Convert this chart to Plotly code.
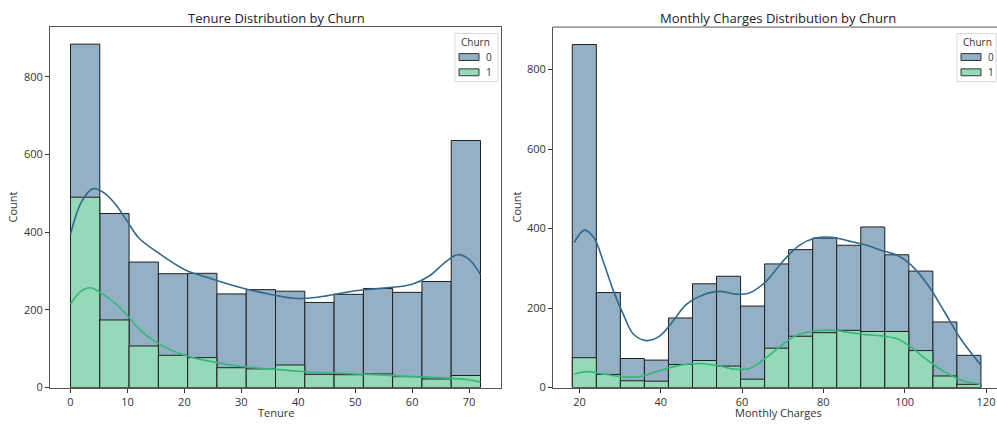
import numpy as np
import plotly.graph_objects as go

# ---------------- data ----------------
tenure_min, tenure_max, tenure_bins = 0, 72, 14
tenure_counts_0 = [884, 448, 323, 293, 294, 241, 252, 248, 219, 240, 255, 245, 273, 636]
tenure_counts_1 = [490, 174, 107, 83, 77, 51, 48, 58, 34, 33, 35, 28, 22, 31]

tenure_kde_x = [0, 2, 4, 6, 8, 10, 12, 15, 20, 25, 30, 35, 40, 45, 50, 55, 60, 63, 66, 68, 70, 72]
tenure_kde_0 = [395, 480, 512, 500, 470, 427, 385, 351, 304, 279, 257, 240, 229, 236, 249, 256, 266, 287, 325, 342, 330, 291]
tenure_kde1_x = [0, 2, 3.5, 5, 8, 10, 12, 15, 20, 25, 30, 35, 40, 45, 50, 55, 60, 65, 70, 72]
tenure_kde_1 = [215, 250, 257, 247, 215, 185, 151, 117, 83, 66, 54, 48, 42, 38, 35, 32, 28, 25, 20, 14]

mc_min, mc_max, mc_bins = 18.25, 118.75, 17
mc_counts_0 = [863, 239, 73, 69, 175, 261, 280, 205, 311, 347, 376, 358, 404, 334, 293, 165, 81]
mc_counts_1 = [75, 33, 17, 16, 58, 68, 54, 21, 99, 129, 138, 144, 141, 141, 93, 29, 8]

mc_kde0_x = [18.75, 21.2, 23.5, 25.9, 28.4, 30.8, 33.3, 36.5, 39.8, 43.0, 46.3, 50.4, 54.4, 58.5, 61.8,
             65.8, 69.9, 74.0, 78.0, 82.1, 86.1, 90.2, 94.3, 98.3, 101.6, 105.7, 109.7, 113.8, 118.75]
mc_kde_0 = [365, 396, 378, 316, 242, 184, 134, 118, 130, 167, 209, 233, 242, 235, 238,
            266, 316, 357, 376, 378, 369, 359, 345, 332, 308, 258, 192, 122, 56]
mc_kde1_x = [18.75, 21.8, 25.9, 30.8, 34.9, 39.0, 43.0, 47.1, 50.4, 54.4, 58.5, 61.8, 65.0, 69.1,
             73.1, 78.0, 82.1, 86.1, 90.2, 94.3, 98.3, 101.6, 105.7, 109.7, 113.8, 118.75]
mc_kde_1 = [34, 40, 34, 27, 27, 40, 52, 59, 60, 54, 46, 48, 68, 101,
            130, 143, 144, 139, 133, 130, 122, 101, 68, 40, 19, 8]

legend_title = "Churn"
legend_labels = ["0", "1"]
titles = ["Tenure Distribution by Churn", "Monthly Charges Distribution by Churn"]
xlabels = ["Tenure", "Monthly Charges"]
ylabel = "Count"

# ---------------- style ----------------
FILL = ["#94b0c5", "#95d9b8"]
LINE = ["#31688e", "#35b779"]
EDGE = "#1f1f1f"
FONT = "Open Sans"
W, H = 997, 426

fig = go.Figure()


def add_hist(xaxis, yaxis, lo, hi, nb, counts, idx):
    edges = np.linspace(lo, hi, nb + 1)
    centers = (edges[:-1] + edges[1:]) / 2
    width = edges[1] - edges[0]
    fig.add_trace(go.Bar(
        x=centers, y=counts, width=width, xaxis=xaxis, yaxis=yaxis,
        marker=dict(color=FILL[idx], line=dict(color=EDGE, width=1)),
        name=legend_labels[idx], showlegend=False,
    ))


def add_kde(xaxis, yaxis, xs, ys, idx):
    fig.add_trace(go.Scatter(
        x=xs, y=ys, mode="lines", line=dict(color=LINE[idx], width=1.6, shape="spline"),
        xaxis=xaxis, yaxis=yaxis, showlegend=False, hoverinfo="skip",
    ))


add_hist("x", "y", tenure_min, tenure_max, tenure_bins, tenure_counts_0, 0)
add_hist("x", "y", tenure_min, tenure_max, tenure_bins, tenure_counts_1, 1)
add_kde("x", "y", tenure_kde_x, tenure_kde_0, 0)
add_kde("x", "y", tenure_kde1_x, tenure_kde_1, 1)

add_hist("x2", "y2", mc_min, mc_max, mc_bins, mc_counts_0, 0)
add_hist("x2", "y2", mc_min, mc_max, mc_bins, mc_counts_1, 1)
add_kde("x2", "y2", mc_kde0_x, mc_kde_0, 0)
add_kde("x2", "y2", mc_kde1_x, mc_kde_1, 1)

ydom = [(426 - 394) / H, (426 - 27.5) / H]
tickfont = dict(family=FONT, size=11, color="#333333")

axis_common = dict(
    showgrid=False, zeroline=False, ticks="outside", ticklen=4, tickcolor="#333333",
    tickfont=tickfont, showline=True, linecolor="#555555", linewidth=1,
)

fig.update_layout(
    width=W, height=H, margin=dict(l=0, r=0, t=0, b=0),
    paper_bgcolor="white", plot_bgcolor="white", barmode="overlay", bargap=0,
    font=dict(family=FONT, color="#333333"), showlegend=False,
    xaxis=dict(domain=[50 / W, 501 / W], range=[-3.6, 75.6], anchor="y",
               tickvals=[0, 10, 20, 30, 40, 50, 60, 70], mirror=True, **axis_common),
    yaxis=dict(domain=ydom, range=[0, 928], anchor="x",
               tickvals=[0, 200, 400, 600, 800], mirror=True, **axis_common),
    xaxis2=dict(domain=[553 / W, 1.0], range=[13.5, 122.7], anchor="y2",
                tickvals=[20, 40, 60, 80, 100, 120], mirror=False, **axis_common),
    yaxis2=dict(domain=ydom, range=[0, 907], anchor="x2",
                tickvals=[0, 200, 400, 600, 800], mirror=False, **axis_common),
)

shapes = [
    # top spine of the right panel (its right spine is cut off by the figure edge)
    dict(type="line", xref="paper", yref="paper", x0=553 / W, x1=1.0,
         y0=ydom[1], y1=ydom[1], line=dict(color="#555555", width=1)),
]
annotations = []


def px_x(v):
    return v / W


def px_y(v):
    return 1 - v / H


def add_legend(left, right):
    # legend frame
    shapes.append(dict(type="rect", xref="paper", yref="paper",
                       x0=px_x(left), x1=px_x(right), y0=px_y(83), y1=px_y(34),
                       fillcolor="rgba(255,255,255,0.85)", line=dict(color="#d9d9d9", width=1)))
    annotations.append(dict(text=legend_title, x=px_x(left + 20), y=px_y(42.5), xref="paper",
                            yref="paper", xanchor="center", yanchor="middle", showarrow=False,
                            borderpad=0, font=dict(family=FONT, size=10, color="#333333")))
    for i, lab in enumerate(legend_labels):
        yc = 58 + i * 15.5
        shapes.append(dict(type="rect", xref="paper", yref="paper",
                           x0=px_x(left + 4), x1=px_x(left + 24),
                           y0=px_y(yc + 3.5), y1=px_y(yc - 3.5),
                           fillcolor=FILL[i], line=dict(color="#333333", width=1)))
        annotations.append(dict(text=lab, x=px_x(left + 30), y=px_y(yc), xref="paper",
                                yref="paper", xanchor="left", yanchor="middle", showarrow=False,
                                borderpad=0, font=dict(family=FONT, size=10, color="#333333")))


add_legend(455, 498)
add_legend(957, 996)

annotations += [
    dict(text=titles[0], x=276 / W, y=px_y(18), xref="paper", yref="paper",
         xanchor="center", yanchor="middle", borderpad=0,
         showarrow=False, font=dict(family=FONT, size=13, color="#222222")),
    dict(text=titles[1], x=778 / W, y=px_y(18), xref="paper", yref="paper",
         xanchor="center", yanchor="middle", borderpad=0,
         showarrow=False, font=dict(family=FONT, size=13, color="#222222")),
    dict(text=xlabels[0], x=276 / W, y=px_y(419), xref="paper", yref="paper",
         xanchor="center", yanchor="middle", borderpad=0,
         showarrow=False, font=dict(family=FONT, size=11, color="#333333")),
    dict(text=xlabels[1], x=778 / W, y=px_y(419), xref="paper", yref="paper",
         xanchor="center", yanchor="middle", borderpad=0,
         showarrow=False, font=dict(family=FONT, size=11, color="#333333")),
    dict(text=ylabel, x=13 / W, y=px_y(211), xref="paper", yref="paper", textangle=-90,
         xanchor="center", yanchor="middle", borderpad=0,
         showarrow=False, font=dict(family=FONT, size=11, color="#333333")),
    dict(text=ylabel, x=517 / W, y=px_y(211), xref="paper", yref="paper", textangle=-90,
         xanchor="center", yanchor="middle", borderpad=0,
         showarrow=False, font=dict(family=FONT, size=11, color="#333333")),
]
fig.update_layout(shapes=shapes, annotations=annotations)

fig.write_html(
    "out.html",
    config={"displayModeBar": False, "staticPlot": True},
    post_script=(
        "document.documentElement.style.margin='0px';"
        "document.body.style.margin='0px';"
        "document.documentElement.style.overflow='hidden';"
        "document.body.style.overflow='hidden';"
    ),
)
